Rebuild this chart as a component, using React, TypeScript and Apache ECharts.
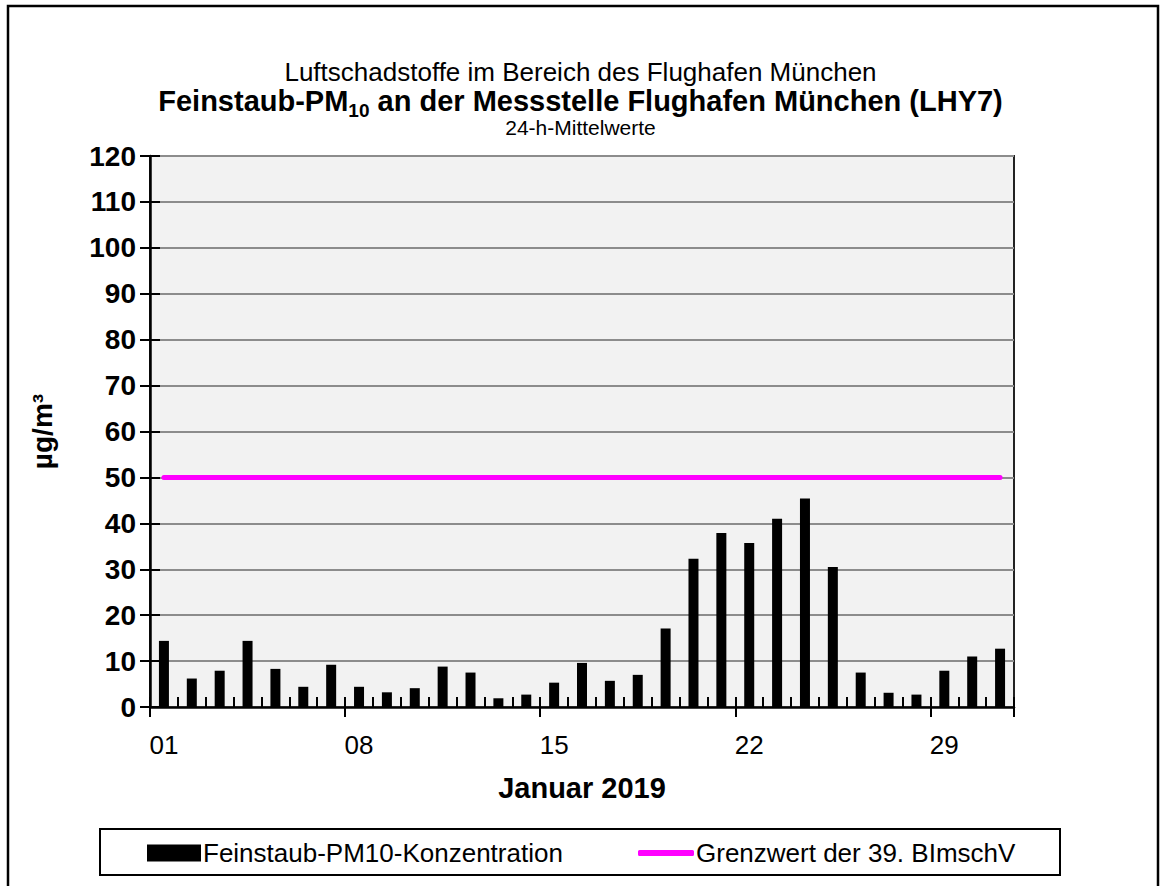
import React, { useEffect, useRef } from "react";
import * as echarts from "echarts";

const days: string[] = [
  "01","02","03","04","05","06","07","08","09","10","11","12","13","14","15","16",
  "17","18","19","20","21","22","23","24","25","26","27","28","29","30","31",
];
const pm10: number[] = [
  14.4, 6.2, 7.9, 14.4, 8.3, 4.4, 9.2, 4.4, 3.2, 4.1, 8.8, 7.5, 1.9, 2.7, 5.3, 9.6,
  5.7, 7.0, 17.1, 32.3, 37.9, 35.7, 41.0, 45.4, 30.5, 7.5, 3.1, 2.7, 7.9, 11.0, 12.7,
];
const limitValue = 50;
const limit: number[] = days.map(() => limitValue);

const barName = "Feinstaub-PM10-Konzentration";
const lineName = "Grenzwert der 39. BImschV";
const title1 = "Luftschadstoffe im Bereich des Flughafen München";
const title2a = "Feinstaub-PM";
const title2sub = "10";
const title2b = " an der Messstelle Flughafen München (LHY7)";
const title3 = "24-h-Mittelwerte";
const xName = "Januar 2019";
const yName = "µg/m³";

const FONT = "'Liberation Sans', Arial, sans-serif";

export default function App() {
  const ref = useRef<HTMLDivElement>(null);
  useEffect(() => {
    if (!ref.current) return;
    const chart = echarts.init(ref.current, null, { renderer: "svg" });
    const option: any = {
      animation: false,
      backgroundColor: "#ffffff",
      textStyle: { fontFamily: FONT, color: "#000" },
      title: [
        {
          text: title1,
          left: "center",
          top: 54,
          textStyle: { fontFamily: FONT, fontSize: 26, fontWeight: "normal", color: "#000", lineHeight: 26 },
        },
        {
          text: `{b|${title2a}}{s|${title2sub}}{b|${title2b}}`,
          left: "center",
          top: 77,
          textStyle: {
            rich: {
              b: { fontFamily: FONT, fontSize: 29, fontWeight: "bold", color: "#000", lineHeight: 30 },
              s: { fontFamily: FONT, fontSize: 19, fontWeight: "bold", color: "#000", lineHeight: 38, verticalAlign: "bottom" },
            },
          },
        },
        {
          text: title3,
          left: "center",
          top: 112,
          textStyle: { fontFamily: FONT, fontSize: 21, fontWeight: "normal", color: "#000", lineHeight: 21 },
        },
      ],
      grid: {
        left: 150,
        right: 147,
        top: 156,
        height: 551,
        show: true,
        backgroundColor: "#f2f2f2",
        borderColor: "#222",
        borderWidth: 2,
      },
      legend: [
        {
          data: [{ name: barName, icon: "rect" }],
          left: 147,
          top: 840,
          padding: 0,
          itemWidth: 54,
          itemHeight: 17,
          textStyle: { fontFamily: FONT, fontSize: 26, color: "#000", padding: [0, 0, 0, -3] },
          selectedMode: false,
        },
        {
          data: [{ name: lineName, icon: "roundRect" }],
          left: 638,
          top: 840,
          padding: 0,
          itemWidth: 56,
          itemHeight: 6,
          textStyle: { fontFamily: FONT, fontSize: 26, color: "#000", padding: [0, 0, 0, -3] },
          selectedMode: false,
        },
      ],
      xAxis: [
        {
          type: "category",
          data: days,
          position: "bottom",
          axisLine: { show: true, lineStyle: { color: "#000", width: 2.5 } },
          axisTick: { show: true, inside: false, length: 10, lineStyle: { color: "#000", width: 2 } },
          axisLabel: { interval: 6, fontFamily: FONT, fontSize: 26, color: "#000", margin: 25 },
          splitLine: { show: false },
          name: xName,
          nameLocation: "middle",
          nameGap: 66,
          nameTextStyle: { fontFamily: FONT, fontSize: 29, fontWeight: "bold", color: "#000" },
        },
        {
          type: "category",
          data: days,
          position: "bottom",
          axisLine: { show: false },
          axisTick: { show: true, inside: true, length: 10, lineStyle: { color: "#000", width: 2 } },
          axisLabel: { show: false },
          splitLine: { show: false },
        },
      ],
      yAxis: [
        {
          type: "value",
          min: 0,
          max: 120,
          interval: 10,
          position: "left",
          axisLine: { show: true, lineStyle: { color: "#000", width: 2.5 } },
          axisTick: { show: true, inside: false, length: 10, lineStyle: { color: "#000", width: 2 } },
          axisLabel: { fontFamily: FONT, fontSize: 28, fontWeight: "bold", color: "#000", margin: 14 },
          splitLine: { show: true, lineStyle: { color: "#8c8c8c", width: 2 } },
          name: yName,
          nameLocation: "middle",
          nameRotate: 90,
          nameGap: 94,
          nameTextStyle: { fontFamily: FONT, fontSize: 28, fontWeight: "bold", color: "#000" },
        },
        {
          type: "value",
          min: 0,
          max: 120,
          interval: 10,
          position: "left",
          axisLine: { show: false },
          axisTick: { show: true, inside: true, length: 10, lineStyle: { color: "#000", width: 2 } },
          axisLabel: { show: false },
          splitLine: { show: false },
        },
      ],
      series: [
        {
          name: barName,
          type: "bar",
          xAxisIndex: 0,
          yAxisIndex: 0,
          data: pm10,
          barWidth: 10,
          itemStyle: { color: "#000" },
          z: 2,
        },
        {
          name: lineName,
          type: "line",
          xAxisIndex: 0,
          yAxisIndex: 0,
          data: limit,
          symbol: "none",
          lineStyle: { color: "#ff00ff", width: 5, cap: "round" },
          itemStyle: { color: "#ff00ff" },
          z: 3,
        },
      ],
      graphic: [
        {
          type: "rect",
          shape: { x: 8, y: 6, width: 1150, height: 900 },
          style: { fill: "none", stroke: "#000", lineWidth: 2.5 },
          silent: true,
        },
        {
          type: "rect",
          shape: { x: 100, y: 829, width: 960, height: 46 },
          style: { fill: "none", stroke: "#000", lineWidth: 2 },
          silent: true,
        },
      ],
    };
    chart.setOption(option);
    return () => chart.dispose();
  }, []);
  return (
    <div
      ref={ref}
      style={{ position: "fixed", left: 0, top: 0, width: 1161, height: 886, background: "#fff" }}
    />
  );
}
